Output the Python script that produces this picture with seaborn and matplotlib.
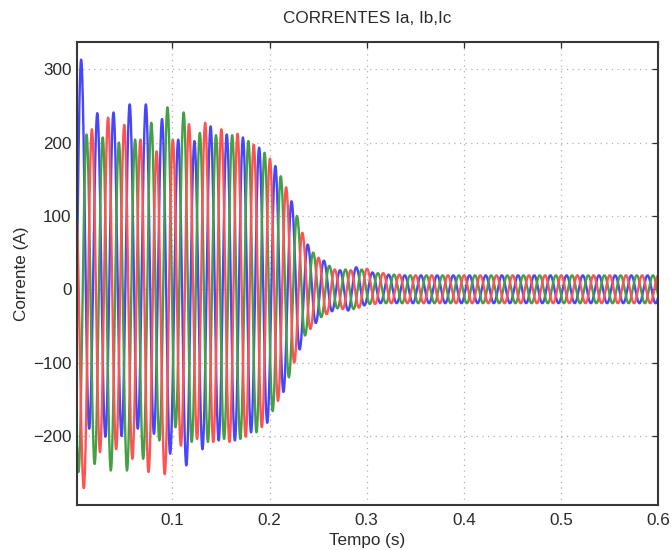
import numpy as np
import pandas as pd
import matplotlib
matplotlib.use("Agg")
import matplotlib.pyplot as plt
import seaborn as sns

# ---------------- data ----------------
PHASES = ["Ia", "Ib", "Ic"]
FREQ_HZ = 60.0
# time of first positive peak (s) of each phase (the list index 0 below is one cycle earlier)
FIRST_PEAK_T = [0.0059, 0.0115, 0.0170]
# successive positive peaks (A), one per cycle, starting one cycle before FIRST_PEAK_T
Ia_peaks = [200, 313, 240, 241, 252, 252, 232, 204, 202, 222, 211, 207, 193, 168, 120, 61, 39, 26, 30, 23, 20]
Ib_peaks = [200, 211, 207, 200, 204, 227, 248, 241, 213, 210, 210, 202, 186, 154, 100, 50, 32, 27, 27, 22, 20]
Ic_peaks = [120, 218, 234, 224, 204, 188, 204, 225, 227, 218, 212, 197, 178, 139, 77, 43, 27, 26, 28, 22, 20]
# successive negative peaks (A), half a cycle before each positive peak of FIRST_PEAK_T onward
Ia_troughs = [-250, -190, -201, -200, -190, -197, -224, -240, -218, -206, -206, -195, -182, -140, -82, -46, -30, -29, -22, -19]
Ib_troughs = [-249, -238, -247, -247, -231, -206, -188, -208, -208, -204, -204, -195, -166, -120, -63, -38, -26, -27, -20, -19]
Ic_troughs = [-271, -222, -218, -231, -249, -252, -213, -204, -208, -208, -201, -188, -152, -100, -54, -34, -27, -25, -20, -19]
STEADY_PEAK = 19.0  # steady-state peak after the start-up transient

X_TICKS = [0.1, 0.2, 0.3, 0.4, 0.5, 0.6]
Y_TICKS = [-200, -100, 0, 100, 200, 300]
X_LIM = (0.0017, 0.6)
Y_LIM = (-294, 337)
COLORS = {"Ia": "#4646ff", "Ib": "#44a044", "Ic": "#ff5252"}

# ---------------- build the waveforms from the peak values ----------------
T = 1.0 / FREQ_HZ
t = np.linspace(X_LIM[0], X_LIM[1], 7000)


def waveform(first_peak, peaks, troughs):
    n_cycles = int(np.ceil((X_LIM[1] - first_peak) / T)) + 3
    pk = list(peaks) + [STEADY_PEAK] * max(0, n_cycles - len(peaks))
    tr = list(troughs) + [-STEADY_PEAK] * max(0, n_cycles - len(troughs))
    ext_t, ext_v = [], []
    for n in range(n_cycles):
        ext_t.append(first_peak + (n - 1) * T)
        ext_v.append(pk[n])
        ext_t.append(first_peak + (n - 0.5) * T)
        ext_v.append(tr[n])
    ext_t = np.array(ext_t)
    ext_v = np.array(ext_v, dtype=float)
    i = np.clip(np.searchsorted(ext_t, t) - 1, 0, len(ext_t) - 2)
    ta, tb = ext_t[i], ext_t[i + 1]
    va, vb = ext_v[i], ext_v[i + 1]
    f = (t - ta) / (tb - ta)
    return vb + (va - vb) * (1 + np.cos(np.pi * f)) / 2


frames = []
for name, fp, pk, tr in zip(PHASES, FIRST_PEAK_T,
                            [Ia_peaks, Ib_peaks, Ic_peaks],
                            [Ia_troughs, Ib_troughs, Ic_troughs]):
    frames.append(pd.DataFrame({"Tempo": t, "Corrente": waveform(fp, pk, tr), "Fase": name}))
df = pd.concat(frames, ignore_index=True)

# ---------------- plot ----------------
sns.set_style("white")
plt.rcParams["font.family"] = ["Liberation Sans", "DejaVu Sans"]

fig = plt.figure(figsize=(6.71, 5.50), dpi=100)
ax = fig.add_axes([0.1148, 0.0818, 0.8658, 0.8418])

sns.lineplot(data=df, x="Tempo", y="Corrente", hue="Fase", palette=COLORS,
             estimator=None, sort=False, linewidth=1.7, legend=False, ax=ax)

FS = 12.3
ax.set_xlim(*X_LIM)
ax.set_ylim(*Y_LIM)
ax.set_xticks(X_TICKS)
ax.set_yticks(Y_TICKS)
ax.set_xticklabels([f"{v:g}" for v in X_TICKS])
ax.set_yticklabels([f"{v:g}".replace("-", "\u2212") for v in Y_TICKS])
ax.grid(True, color="#b0b0b0", linestyle=(0, (1, 3.5)), linewidth=0.9)
ax.set_axisbelow(True)
ax.tick_params(direction="in", length=4, width=0.9, top=True, right=True,
               labelsize=FS, colors="#2a2a2a")
ax.tick_params(axis="x", pad=6)
ax.tick_params(axis="y", pad=4)
for s in ax.spines.values():
    s.set_visible(True)
    s.set_color("#383838")
    s.set_linewidth(1.5)

ax.set_title("CORRENTES Ia, Ib,Ic", fontsize=FS, color="#2a2a2a", pad=14)
ax.set_xlabel("Tempo (s)", fontsize=FS, color="#2a2a2a", labelpad=3)
ax.set_ylabel("Corrente (A)", fontsize=FS, color="#2a2a2a", labelpad=3)

fig.savefig("out.png", dpi=100)
